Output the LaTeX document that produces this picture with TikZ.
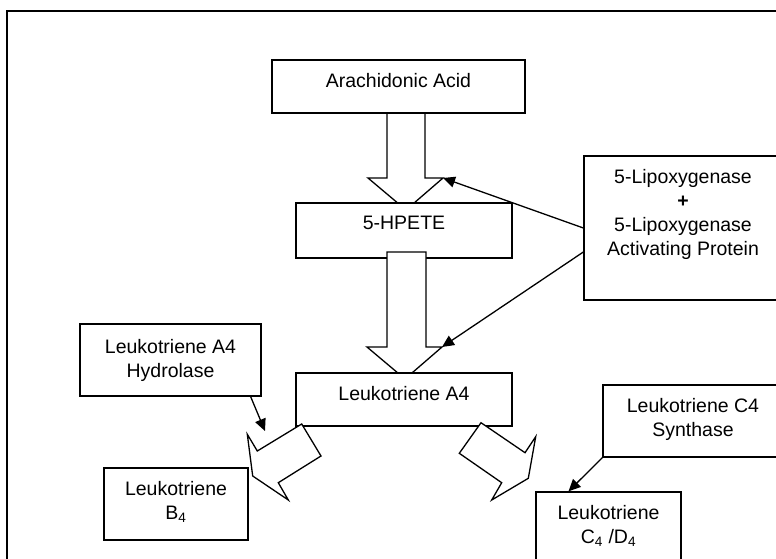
\documentclass[tikz,border=0pt]{standalone}
\usepackage{fontspec}
\setmainfont{Liberation Sans}
\usetikzlibrary{positioning,arrows.meta}
\tikzset{%
  box/.style={draw,fill=white,line width=1.3pt,inner sep=0},
  lbl/.style={align=center,inner sep=0,font=\fontsize{19.5}{24}\selectfont},
  fatarrow/.style={draw,fill=white,line width=1.3pt,line join=miter},
  enz/.style={-{Triangle[length=12pt,width=11pt]},line width=1.3pt}
}

\begin{document}
\begin{tikzpicture}[x=1pt,y=-1pt]
  \useasboundingbox (0,0) rectangle (776,559);
  \clip (0,0) rectangle (776,559);
  \draw[line width=2pt] (7,600) -- (7,11) -- (800,11);
  % first step
  \draw[fatarrow] (387,113) -- (387,178) -- (368,178) -- (406,210)
    -- (443,178) coordinate (hda) -- (425,178) -- (425,113) -- cycle;
  \path
    (398.5,86.5) node[box,minimum width=253,minimum height=53] (aa) {}
    (404,230.5) node[box,minimum width=216,minimum height=55] (hpete) {};
  \node[lbl,below=14pt of aa.north] (aatxt) {Arachidonic Acid};
  \node[lbl,below=14pt of hpete.north] (hpetetxt) {5-HPETE};
  % second step
  \draw[fatarrow] (387,252) -- (387,347) -- (367,347) -- (405,379)
    -- (442,347) coordinate (hdb) -- (426,347) -- (426,252) -- cycle;
  \path (404,399.5) node[box,minimum width=216,minimum height=53] (lta) {};
  \node[lbl,below=14pt of lta.north] (ltatxt) {Leukotriene A4};
  % branches
  \draw[fatarrow] (301.7,424) -- (321,456) -- (278.3,482.7) -- (288.3,500)
    -- (252.7,476) -- (247.3,434.3) -- (257.3,451) -- cycle;
  \draw[fatarrow] (481,422.7) -- (525,452.7) -- (535.7,436.7) -- (528.3,478.3)
    -- (491.7,500) -- (501.7,482.7) -- (459.3,453.3) -- cycle;
  \path
    (683,228) node[box,minimum width=198,minimum height=144] (lox) {}
    (170.5,360) node[box,minimum width=181,minimum height=72] (hyd) {}
    (176,504) node[box,minimum width=144,minimum height=72] (ltb) {}
    (693,421) node[box,minimum width=180,minimum height=72] (ltcs) {}
    (608.5,536) node[box,minimum width=145,minimum height=88] (ltcd) {};
  \node[lbl,below=14pt of lox.north] (loxtxt)
    {5-Lipoxygenase\\\textbf{+}\\5-Lipoxygenase\\Activating Protein};
  \node[lbl,below=16pt of hyd.north] (hydtxt) {Leukotriene A4\\Hydrolase};
  \node[lbl,below=14pt of ltb.north] (ltbtxt) {Leukotriene\\B\textsubscript{4}};
  \node[lbl,below=14pt of ltcs.north] (ltcstxt) {Leukotriene C4\\Synthase};
  \node[lbl,below=14pt of ltcd.north] (ltcdtxt)
    {Leukotriene\\C\textsubscript{4} /D\textsubscript{4}};
  % enzymes
  \coordinate (hydend) at (265,431);
  \draw[enz] (lox.west) -- (hda);
  \draw[enz] ([yshift=-24pt]lox.west) -- (hdb);
  \draw[enz] ([xshift=-11pt]hyd.south east) -- (hydend);
  \draw[enz] (ltcs.south west) -- ([xshift=-40pt]ltcd.north);
\end{tikzpicture}
\end{document}
